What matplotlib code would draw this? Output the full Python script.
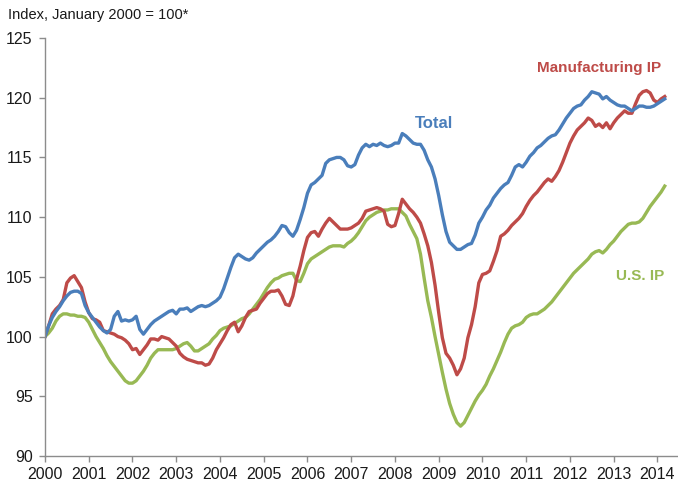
import numpy as np
import matplotlib.pyplot as plt
from matplotlib import font_manager

# monthly index values, Jan 2000 .. Mar 2014 (Jan 2000 = 100)
total = [
    100.0, 100.9, 101.6, 102.1, 102.5, 103.0, 103.4, 103.7, 103.8, 103.8, 103.6, 102.6,  # 2000
    102.0, 101.6, 101.2, 100.8, 100.5, 100.3, 100.6, 101.7, 102.1, 101.3, 101.4, 101.3,  # 2001
    101.4, 101.7, 100.6, 100.2, 100.6, 101.0, 101.3, 101.5, 101.7, 101.9, 102.1, 102.2,  # 2002
    101.9, 102.3, 102.3, 102.4, 102.1, 102.3, 102.5, 102.6, 102.5, 102.6, 102.8, 103.0,  # 2003
    103.3, 104.0, 104.9, 105.8, 106.6, 106.9, 106.7, 106.5, 106.4, 106.6, 107.0, 107.3,  # 2004
    107.6, 107.9, 108.1, 108.4, 108.8, 109.3, 109.2, 108.7, 108.4, 108.9, 109.8, 110.8,  # 2005
    112.0, 112.7, 112.9, 113.2, 113.5, 114.5, 114.8, 114.9, 115.0, 115.0, 114.8, 114.3,  # 2006
    114.2, 114.4, 115.2, 115.8, 116.1, 115.9, 116.1, 116.0, 116.2, 116.0, 115.9, 116.0,  # 2007
    116.2, 116.2, 117.0, 116.8, 116.5, 116.2, 116.1, 116.1, 115.6, 114.8, 114.2, 113.2,  # 2008
    111.8, 110.2, 108.8, 107.9, 107.6, 107.3, 107.3, 107.5, 107.7, 107.8, 108.5, 109.5,  # 2009
    110.0, 110.6, 111.0, 111.6, 112.0, 112.4, 112.7, 112.9, 113.5, 114.2, 114.4, 114.2,  # 2010
    114.6, 115.1, 115.4, 115.8, 116.0, 116.3, 116.6, 116.8, 116.9, 117.3, 117.8, 118.3,  # 2011
    118.7, 119.1, 119.3, 119.4, 119.8, 120.1, 120.5, 120.4, 120.3, 119.9, 120.1, 119.8,  # 2012
    119.6, 119.4, 119.3, 119.3, 119.1, 118.9, 119.1, 119.3, 119.3, 119.2, 119.2, 119.3,  # 2013
    119.5, 119.7, 119.9,                                                                # 2014
]

manufacturing = [
    100.0, 100.9, 101.9, 102.3, 102.6, 103.1, 104.5, 104.9, 105.1, 104.6, 104.1, 102.9,  # 2000
    102.0, 101.5, 101.4, 101.2, 100.5, 100.4, 100.3, 100.2, 100.0, 99.9, 99.7, 99.4,     # 2001
    98.9, 99.0, 98.5, 98.9, 99.3, 99.8, 99.8, 99.7, 100.0, 99.9, 99.8, 99.5,             # 2002
    99.2, 98.6, 98.3, 98.1, 98.0, 97.9, 97.8, 97.8, 97.6, 97.7, 98.2, 98.9,              # 2003
    99.4, 99.9, 100.5, 101.0, 101.2, 100.4, 100.9, 101.6, 102.1, 102.2, 102.3, 102.8,    # 2004
    103.2, 103.6, 103.8, 103.8, 103.9, 103.4, 102.7, 102.6, 103.4, 104.8, 105.9, 107.2,  # 2005
    108.3, 108.7, 108.8, 108.4, 109.0, 109.5, 109.9, 109.6, 109.3, 109.0, 109.0, 109.0,  # 2006
    109.1, 109.3, 109.5, 109.9, 110.5, 110.6, 110.7, 110.8, 110.7, 110.5, 109.4, 109.2,  # 2007
    109.3, 110.3, 111.5, 111.1, 110.7, 110.4, 110.0, 109.5, 108.6, 107.6, 106.2, 104.3,  # 2008
    102.0, 99.9, 98.6, 98.2, 97.6, 96.8, 97.3, 98.2, 99.9, 101.0, 102.5, 104.5,          # 2009
    105.2, 105.3, 105.5, 106.3, 107.2, 108.4, 108.6, 108.9, 109.3, 109.6, 109.9, 110.3,  # 2010
    110.9, 111.4, 111.8, 112.1, 112.5, 112.9, 113.2, 113.0, 113.4, 113.9, 114.6, 115.4,  # 2011
    116.2, 116.8, 117.3, 117.6, 117.9, 118.3, 118.1, 117.6, 117.8, 117.5, 117.9, 117.4,  # 2012
    117.9, 118.3, 118.6, 118.9, 118.7, 118.7, 119.5, 120.2, 120.5, 120.6, 120.4, 119.8,  # 2013
    119.6, 119.9, 120.1,                                                                # 2014
]

us_ip = [
    100.0, 100.3, 100.7, 101.3, 101.7, 101.9, 101.9, 101.8, 101.8, 101.7, 101.7, 101.6,  # 2000
    101.2, 100.6, 100.0, 99.5, 99.0, 98.4, 97.9, 97.5, 97.1, 96.7, 96.3, 96.1,           # 2001
    96.1, 96.3, 96.7, 97.1, 97.6, 98.2, 98.6, 98.9, 98.9, 98.9, 98.9, 98.9,              # 2002
    99.0, 99.2, 99.4, 99.5, 99.2, 98.8, 98.8, 99.0, 99.2, 99.4, 99.8, 100.1,             # 2003
    100.5, 100.7, 100.8, 100.9, 101.1, 101.3, 101.5, 101.6, 101.9, 102.3, 102.7, 103.1,  # 2004
    103.6, 104.1, 104.5, 104.8, 104.9, 105.1, 105.2, 105.3, 105.3, 104.7, 104.6, 105.3,  # 2005
    106.1, 106.5, 106.7, 106.9, 107.1, 107.3, 107.5, 107.6, 107.6, 107.6, 107.5, 107.8,  # 2006
    108.0, 108.3, 108.7, 109.2, 109.7, 110.0, 110.2, 110.4, 110.5, 110.6, 110.6, 110.7,  # 2007
    110.7, 110.7, 110.4, 110.1, 109.4, 108.8, 108.2, 106.9, 104.9, 103.0, 101.6, 100.0,  # 2008
    98.5, 97.0, 95.6, 94.4, 93.5, 92.8, 92.5, 92.8, 93.4, 94.0, 94.6, 95.1,              # 2009
    95.5, 96.0, 96.7, 97.3, 98.0, 98.7, 99.5, 100.2, 100.7, 100.9, 101.0, 101.2,         # 2010
    101.6, 101.8, 101.9, 101.9, 102.1, 102.3, 102.6, 102.9, 103.3, 103.7, 104.1, 104.5,  # 2011
    104.9, 105.3, 105.6, 105.9, 106.2, 106.5, 106.9, 107.1, 107.2, 107.0, 107.3, 107.7,  # 2012
    108.0, 108.4, 108.8, 109.1, 109.4, 109.5, 109.5, 109.6, 109.9, 110.4, 110.9, 111.3,  # 2013
    111.7, 112.1, 112.6,                                                                # 2014
]

year_ticks = list(range(2000, 2015))
y_ticks = [90, 95, 100, 105, 110, 115, 120, 125]

BLUE = '#4a7ebb'
RED = '#be4b48'
GREEN = '#98b954'

# narrow sans like the original if there is one, else Liberation Sans
names = {f.name for f in font_manager.fontManager.ttflist}
fam = 'Liberation Sans Narrow' if 'Liberation Sans Narrow' in names else 'Liberation Sans'
narrow = fam == 'Liberation Sans Narrow'
plt.rcParams['font.family'] = [fam, 'DejaVu Sans']

tick_fs = 13 if narrow else 11.5
lab_fs = 13 if narrow else 11
title_fs = 13 if narrow else 10.5

months = 2000 + np.arange(len(total)) / 12.0

fig = plt.figure(figsize=(6.78, 4.88), dpi=100)
ax = fig.add_axes([45 / 678, 32 / 488, 633 / 678, 418 / 488])

ax.plot(months, us_ip, color=GREEN, lw=2.4, solid_joinstyle='round')
ax.plot(months, manufacturing, color=RED, lw=2.4, solid_joinstyle='round')
ax.plot(months, total, color=BLUE, lw=2.4, solid_joinstyle='round')

ax.set_xlim(2000, 2014.47)
ax.set_ylim(90, 125)
ax.set_xticks(year_ticks)
ax.set_xticklabels([str(y) for y in year_ticks])
ax.set_yticks(y_ticks)

for s in ['top', 'right']:
    ax.spines[s].set_visible(False)
for s in ['left', 'bottom']:
    ax.spines[s].set_color('#8c8c8c')
    ax.spines[s].set_linewidth(1.0)
ax.tick_params(axis='both', colors='#8c8c8c', labelcolor='#1a1a1a',
               labelsize=tick_fs, length=4, width=1.0, direction='out')
ax.tick_params(axis='x', pad=4)
ax.tick_params(axis='y', pad=5)

ax.text(2008.89, 117.8, 'Total', color=BLUE, fontsize=lab_fs + 1,
        fontweight='bold', ha='center', va='center')
ax.text(2012.67, 122.5, 'Manufacturing IP', color=RED, fontsize=lab_fs,
        fontweight='bold', ha='center', va='center')
ax.text(2013.6, 105.1, 'U.S. IP', color=GREEN, fontsize=lab_fs,
        fontweight='bold', ha='center', va='center')

fig.text(8 / 678, 1 - 15 / 488, 'Index, January 2000 = 100*', fontsize=title_fs,
         color='#1a1a1a', ha='left', va='center')

fig.savefig('out.png', dpi=100)
